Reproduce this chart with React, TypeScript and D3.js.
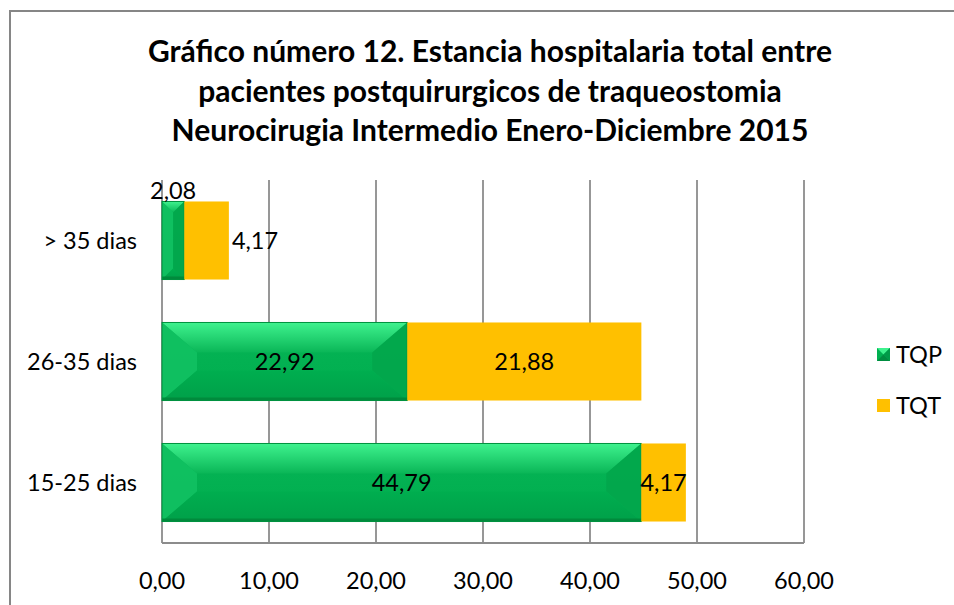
import React from "react";
import * as d3 from "d3";

const categories = ["15-25 dias", "26-35 dias", "> 35 dias"];
const tqpValues = [44.79, 22.92, 2.08];
const tqtValues = [4.17, 21.88, 4.17];
const xTicks = [0, 10, 20, 30, 40, 50, 60];
const titleLines = [
  "Gráfico número 12. Estancia hospitalaria total entre",
  "pacientes postquirurgicos de traqueostomia",
  "Neurocirugia Intermedio Enero-Diciembre 2015",
];
const seriesNames = ["TQP", "TQT"];

const W = 954;
const H = 605;
const FONT = "Lato, 'Open Sans', sans-serif";
const FS = 23.5;
const fmt = (v: number) => v.toFixed(2).replace(".", ",");

function Bevel({ x0, x1, y0, y1 }: { x0: number; x1: number; y0: number; y1: number }) {
  const w = x1 - x0;
  const h = y1 - y0;
  const d = Math.min(35, w / 2, h / 2 - 4);
  const dv = Math.min(d, 30);
  const ix0 = x0 + d, ix1 = x1 - d, iy0 = y0 + dv, iy1 = y1 - dv;
  const p = (pts: number[][]) => pts.map((q) => q.join(",")).join(" ");
  return (
    <g>
      <rect x={x0} y={y0} width={w} height={h} fill="url(#faceGrad)" />
      <polygon points={p([[x0, y0], [x1, y0], [ix1, iy0], [ix0, iy0]])} fill="url(#topGrad)" />
      <polygon points={p([[x0, y0], [ix0, iy0], [ix0, iy1], [x0, y1]])} fill="#12c263" opacity={0.85} />
      <polygon points={p([[x1, y0], [x1, y1], [ix1, iy1], [ix1, iy0]])} fill="#02a64b" opacity={0.85} />
      <polygon points={p([[x0, y1], [x1, y1], [ix1, iy1], [ix0, iy1]])} fill="url(#botGrad)" />
      <rect x={x0} y={y1 - 3} width={w} height={3} fill="#008a3c" />
      <rect x={x0} y={y0} width={w} height={h} fill="none" stroke="#00913f" strokeWidth={1} />
    </g>
  );
}

export default function App() {
  const x = d3.scaleLinear().domain([0, 60]).range([162, 804]);
  const y = d3.scaleBand().domain(categories).range([543, 180]).paddingInner(0.355).paddingOuter(0.1775);
  const bh = y.bandwidth();

  return (
    <div style={{ position: "fixed", left: 0, top: 0 }}>
      <svg width={W} height={H} style={{ display: "block" }}>
        <defs>
          <linearGradient id="topGrad" x1="0" y1="0" x2="0" y2="1">
            <stop offset="0" stopColor="#3ff28e" />
            <stop offset="1" stopColor="#0ab657" />
          </linearGradient>
          <linearGradient id="botGrad" x1="0" y1="0" x2="0" y2="1">
            <stop offset="0" stopColor="#00ae4f" />
            <stop offset="1" stopColor="#00a049" />
          </linearGradient>
          <linearGradient id="faceGrad" x1="0" y1="0" x2="0" y2="1">
            <stop offset="0" stopColor="#06b556" />
            <stop offset="1" stopColor="#00ad4e" />
          </linearGradient>
        </defs>
        <rect x={0} y={0} width={W} height={H} fill="#fff" />
        <rect x={10} y={11} width={W + 20} height={H + 20} fill="none" stroke="#868686" strokeWidth={2} />

        {titleLines.map((t, i) => (
          <text key={i} x={490} y={62 + i * 39.5} textAnchor="middle" fontFamily={FONT} fontWeight="bold" fontSize={30} fill="#000">
            {t}
          </text>
        ))}

        {xTicks.map((t) => (
          <line key={t} x1={x(t)} x2={x(t)} y1={180} y2={543} stroke="#8c8c8c" strokeWidth={1.8} />
        ))}
        <line x1={x(0)} x2={x(60)} y1={543} y2={543} stroke="#8c8c8c" strokeWidth={1.8} />
        {xTicks.map((t) => (
          <text key={t} x={x(t)} y={589} textAnchor="middle" fontFamily={FONT} fontSize={FS} fill="#000">
            {fmt(t)}
          </text>
        ))}

        {categories.map((c, i) => {
          const y0 = y(c)!;
          const y1 = y0 + bh;
          const cy = y0 + bh / 2;
          const a = tqpValues[i];
          const b = tqtValues[i];
          const xa = x(a);
          const xb = x(a + b);
          const small = a < 5;
          const smallB = b < 5 && !(a > 5);
          return (
            <g key={c}>
              <text x={137} y={cy + 8} textAnchor="end" fontFamily={FONT} fontSize={FS} fill="#000">{c}</text>
              <Bevel x0={x(0)} x1={xa} y0={y0} y1={y1} />
              <rect x={xa} y={y0} width={xb - xa} height={bh} fill="#ffc000" />
              {small ? (
                <text x={(x(0) + xa) / 2} y={y0 - 2} textAnchor="middle" fontFamily={FONT} fontSize={FS} fill="#000">{fmt(a)}</text>
              ) : (
                <text x={(x(0) + xa) / 2} y={cy + 8} textAnchor="middle" fontFamily={FONT} fontSize={FS} fill="#000">{fmt(a)}</text>
              )}
              {smallB ? (
                <text x={xb + 3} y={cy + 8} textAnchor="start" fontFamily={FONT} fontSize={FS} fill="#000">{fmt(b)}</text>
              ) : (
                <text x={(xa + xb) / 2} y={cy + 8} textAnchor="middle" fontFamily={FONT} fontSize={FS} fill="#000">{fmt(b)}</text>
              )}
            </g>
          );
        })}

        <g>
          <rect x={877} y={348} width={13} height={13} fill="#00b050" />
          <polygon points="877,348 890,348 883.5,354.5" fill="#3ff28e" />
          <polygon points="877,361 890,361 883.5,354.5" fill="#008c40" />
          <polygon points="890,348 890,361 883.5,354.5" fill="#009a48" />
          <text x={896} y={363} fontFamily={FONT} fontSize={FS} fill="#000">{seriesNames[0]}</text>
          <rect x={877} y={399} width={13} height={13} fill="#ffc000" />
          <text x={896} y={414} fontFamily={FONT} fontSize={FS} fill="#000">{seriesNames[1]}</text>
        </g>
      </svg>
    </div>
  );
}
